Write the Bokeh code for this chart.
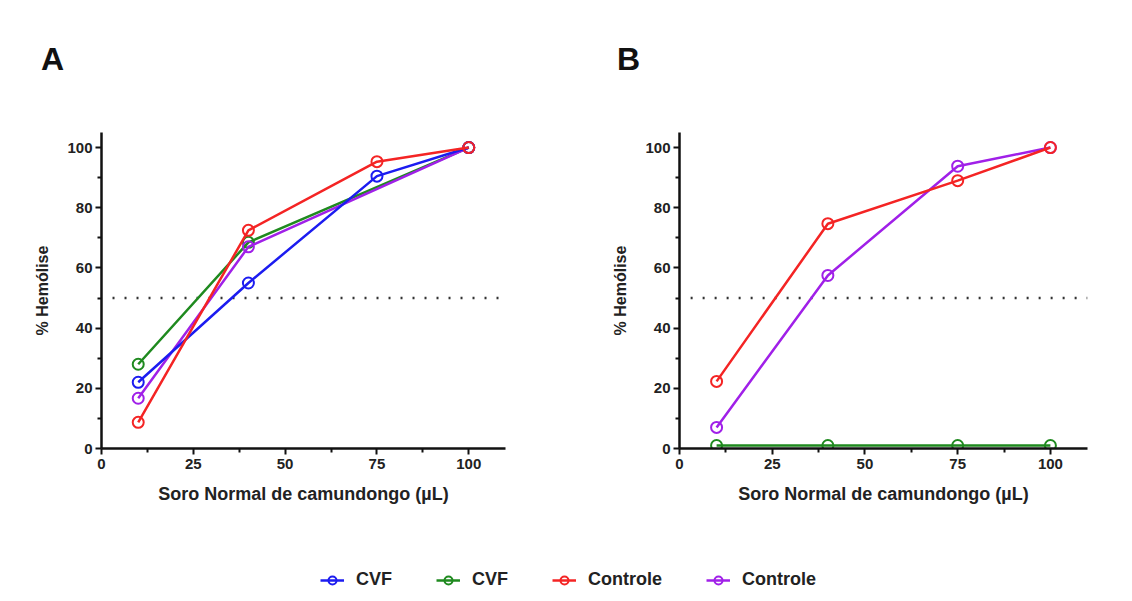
from bokeh.plotting import figure
from bokeh.models import Range1d, FixedTicker, Legend, LegendItem, ColumnDataSource, Label
from bokeh.layouts import column, row
from bokeh.embed import file_html
from bokeh.resources import INLINE

# ---------------- data ----------------
# Panel A
a_blue_x = [10, 40, 75, 100]
a_blue_y = [22, 55, 90.5, 100]          # CVF (blue)
a_green_x = [10, 40, 100]
a_green_y = [28, 68.5, 100]             # CVF (green)
a_red_x = [10, 40, 75, 100]
a_red_y = [8.7, 72.5, 95.3, 100]        # Controle (red)
a_purple_x = [10, 40, 100]
a_purple_y = [16.7, 67, 100]            # Controle (purple)

# Panel B
b_x = [10, 40, 75, 100]
b_green_y = [1, 1, 1, 1]                # CVF (green)
b_red_y = [22.3, 74.7, 89, 100]         # Controle (red)
b_purple_y = [7, 57.5, 93.8, 100]       # Controle (purple)

threshold = 50
x_ticks = [0, 25, 50, 75, 100]
x_minor = [12.5, 37.5, 62.5, 87.5]
y_ticks = [0, 20, 40, 60, 80, 100]
y_minor = [10, 30, 50, 70, 90]

legend_labels = ["CVF", "CVF", "Controle", "Controle"]
panel_letters = ["A", "B"]

BLUE = "#1c1cf0"
GREEN = "#1f8a1f"
RED = "#f42424"
PURPLE = "#a020e8"
FONT = "Liberation Sans"
TOP = 90


def make_panel(ml, mr, mt, mb, w, h):
    p = figure(width=w, height=h, output_backend="svg", toolbar_location=None,
               x_range=Range1d(0, 110), y_range=Range1d(0, 105),
               min_border_left=ml, min_border_right=mr,
               min_border_top=mt, min_border_bottom=mb)
    p.outline_line_color = None
    p.xgrid.visible = False
    p.ygrid.visible = False
    p.background_fill_color = "white"
    p.border_fill_color = "white"
    for ax in (p.xaxis[0], p.yaxis[0]):
        ax.axis_line_width = 2.5
        ax.axis_line_color = "#111111"
        ax.major_tick_line_width = 2
        ax.major_tick_line_color = "#111111"
        ax.minor_tick_line_width = 2
        ax.minor_tick_line_color = "#111111"
        ax.major_tick_out = 6
        ax.major_tick_in = 0
        ax.minor_tick_out = 4
        ax.minor_tick_in = 0
        ax.major_label_text_font = FONT
        ax.major_label_text_font_style = "bold"
        ax.major_label_text_font_size = "15px"
        ax.major_label_text_color = "#222222"
        ax.axis_label_text_font = FONT
        ax.axis_label_text_font_style = "bold"
        ax.axis_label_text_color = "#222222"
    p.xaxis[0].ticker = FixedTicker(ticks=x_ticks, minor_ticks=x_minor)
    p.yaxis[0].ticker = FixedTicker(ticks=y_ticks, minor_ticks=y_minor)
    p.xaxis[0].axis_label = "Soro Normal de camundongo (µL)"
    p.xaxis[0].axis_label_text_font_size = "18px"
    p.xaxis[0].axis_label_standoff = 12
    p.xaxis[0].major_label_standoff = 4
    p.yaxis[0].axis_label = "% Hemólise"
    p.yaxis[0].axis_label_text_font_size = "16px"
    p.yaxis[0].axis_label_standoff = 13
    p.yaxis[0].major_label_standoff = 3
    # threshold dotted line
    p.line(x=[3, 110], y=[threshold, threshold], line_color="#333333",
           line_width=2.5, line_dash="2 10")
    return p


def series(p, xs, ys, color):
    src = ColumnDataSource(dict(x=xs, y=ys))
    p.line("x", "y", source=src, line_color=color, line_width=2.5)
    p.scatter("x", "y", source=src, marker="circle", size=11, line_color=color,
              line_width=2, fill_alpha=0)


# top strip with panel letters
pT = figure(width=1127, height=TOP, output_backend="svg", toolbar_location=None,
            x_range=Range1d(0, 1127), y_range=Range1d(0, TOP), min_border=0)
pT.axis.visible = False
pT.grid.visible = False
pT.outline_line_color = None
for letter, lx in zip(panel_letters, [52, 628]):
    pT.add_layout(Label(x=lx, y=TOP - 58, text=letter, text_font=FONT,
                        text_font_style="bold", text_font_size="32px",
                        text_align="center", text_baseline="middle",
                        text_color="#111111"))

pA = make_panel(101, 61, 132 - TOP, 91, 566, 540 - TOP)
series(pA, a_green_x, a_green_y, GREEN)
series(pA, a_purple_x, a_purple_y, PURPLE)
series(pA, a_blue_x, a_blue_y, BLUE)
series(pA, a_red_x, a_red_y, RED)

pB = make_panel(113, 40, 127 - TOP, 92, 561, 540 - TOP)
series(pB, b_x, b_purple_y, PURPLE)
series(pB, b_x, b_red_y, RED)
series(pB, b_x, b_green_y, GREEN)

# legend strip
pL = figure(width=1127, height=55, output_backend="svg", toolbar_location=None,
            x_range=Range1d(0, 1), y_range=Range1d(0, 1), min_border=0)
pL.axis.visible = False
pL.grid.visible = False
pL.outline_line_color = None
items = []
for lab, col in zip(legend_labels, [BLUE, GREEN, RED, PURPLE]):
    src = ColumnDataSource(dict(x=[-10, -9], y=[-10, -10]))  # off-screen, legend only
    r1 = pL.line("x", "y", source=src, line_color=col, line_width=2.5)
    r2 = pL.scatter("x", "y", source=src, marker="circle", size=11, line_color=col,
                    line_width=2, fill_alpha=0)
    items.append(LegendItem(label=lab, renderers=[r1, r2]))
leg = Legend(items=items, orientation="horizontal", location=(315, 0),
             glyph_width=24, glyph_height=20, label_height=20, label_standoff=12,
             spacing=44, padding=5, margin=0,
             label_text_font=FONT, label_text_font_style="bold",
             label_text_font_size="18px", label_text_color="#222222",
             border_line_alpha=0, background_fill_alpha=0)
pL.add_layout(leg, "center")

layout = column(pT, row(pA, pB), pL)
open("out.html", "w").write(file_html(layout, INLINE))
